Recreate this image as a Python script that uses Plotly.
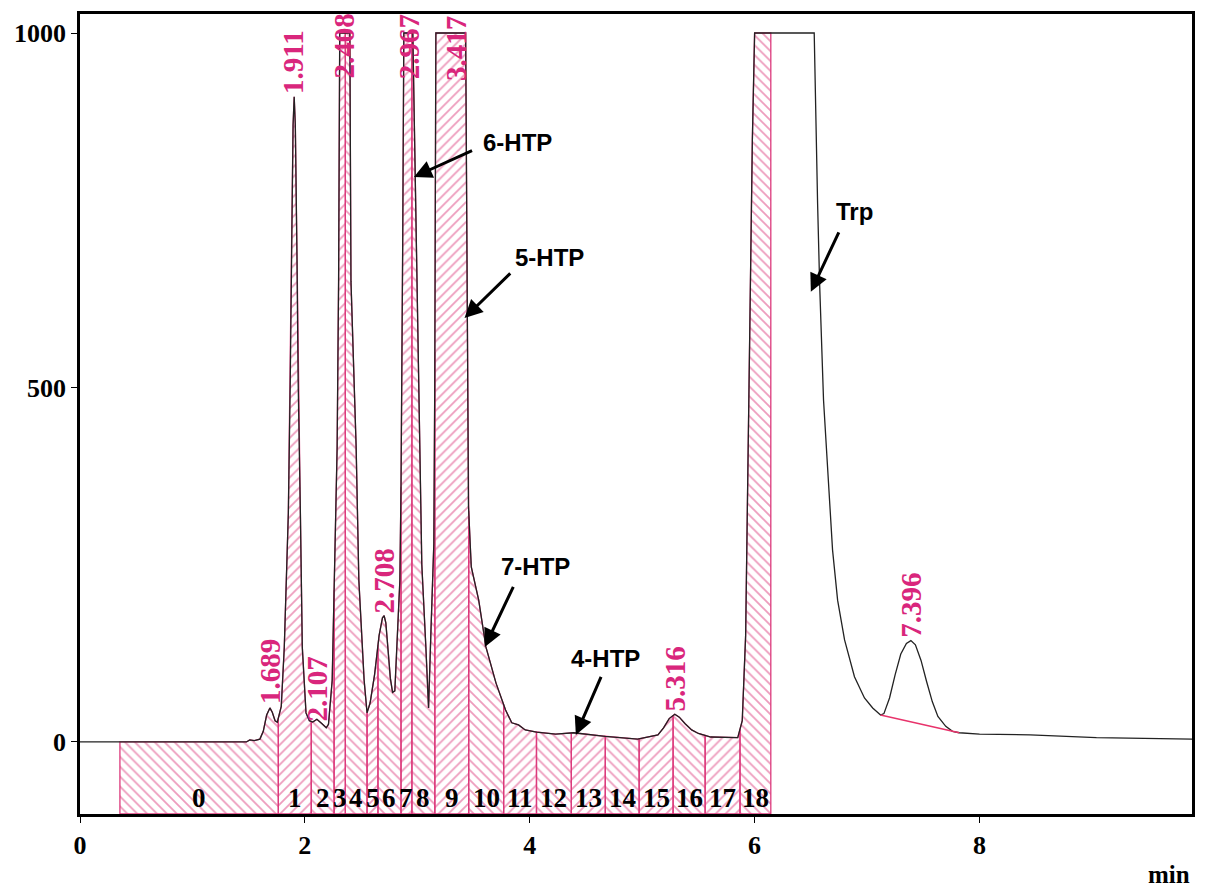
import numpy as np
import plotly.graph_objects as go

# ---------------- data ----------------
time_min = [0.00, 1.48, 1.51, 1.55, 1.60, 1.63, 1.66, 1.689, 1.71, 1.735, 1.755, 1.79, 1.817, 1.853,
            1.87, 1.88, 1.895, 1.905, 1.915, 1.93, 1.94, 1.96, 1.977, 2.01, 2.04, 2.07, 2.107, 2.15,
            2.19, 2.21, 2.243, 2.287, 2.30, 2.31, 2.40, 2.41, 2.456, 2.48, 2.527, 2.553, 2.58, 2.62,
            2.66, 2.69, 2.705, 2.72, 2.74, 2.76, 2.78, 2.80, 2.845, 2.855, 2.87, 2.88, 2.96, 2.99,
            3.014, 3.04, 3.076, 3.10, 3.12, 3.147, 3.155, 3.165, 3.43, 3.445, 3.45, 3.455, 3.47,
            3.48, 3.546, 3.61, 3.70, 3.785, 3.84, 3.90, 3.96, 4.06, 4.23, 4.39, 4.67, 4.96, 5.14,
            5.19, 5.24, 5.29, 5.33, 5.38, 5.44, 5.50, 5.61, 5.85, 5.89, 5.92, 5.95, 5.98, 6.00,
            6.53, 6.56, 6.578, 6.613, 6.667, 6.693, 6.738, 6.80, 6.888, 6.977, 7.05, 7.12, 7.15,
            7.20, 7.25, 7.30, 7.35, 7.39, 7.43, 7.48, 7.53, 7.58, 7.63, 7.70, 7.76, 7.82, 8.00,
            8.45, 9.04, 9.95]
signal = [0, 0, 3, 2, 4, 15, 38, 48, 42, 30, 28, 50, 134, 323,
          510, 680, 870, 910, 870, 680, 510, 323, 134, 41, 30, 28, 32, 26,
          20, 25, 87, 416, 650, 1000, 1000, 650, 416, 228, 87, 41, 55, 95,
          150, 175, 178, 168, 130, 90, 70, 72, 228, 360, 700, 1000, 1000, 700,
          450, 250, 134, 48, 150, 280, 500, 1000, 1000, 600, 470, 333, 280,
          247, 200, 134, 83, 45, 27, 24, 17, 14, 11, 13, 8, 4, 10,
          20, 33, 39, 35, 26, 17, 12, 7, 6, 30, 150, 500, 850, 1000,
          1000, 760, 647, 482, 341, 271, 200, 144, 92, 62, 48, 38, 40,
          62, 95, 124, 139, 143, 137, 115, 85, 57, 36, 22, 15, 13, 11,
          10, 6, 4]

slice_edges = [0.355, 1.764, 2.057, 2.26, 2.36, 2.553, 2.65, 2.855, 2.952, 3.156, 3.457,
               3.768, 4.06, 4.37, 4.672, 4.973, 5.275, 5.56, 5.87, 6.144]
slice_numbers = ["0", "1", "2", "3", "4", "5", "6", "7", "8", "9", "10", "11", "12", "13",
                 "14", "15", "16", "17", "18"]

rt_labels = ["1.689", "1.911", "2.107", "2.408", "2.708", "2.967", "3.417", "5.316", "7.396"]
rt_label_x = [1.685, 1.90, 2.11, 2.35, 2.704, 2.925, 3.35, 5.29, 7.39]
rt_label_y = [52, 912, 27, 934, 179, 934, 931, 42, 146]

peak_baseline_t = [7.12, 7.82]
peak_baseline_v = [38, 13]

x_ticks = [0, 2, 4, 6, 8]
y_ticks = [0, 500, 1000]

X_RANGE = [0, 9.89]
Y_RANGE = [-101.6, 1026.8]

PINK = "#d9267c"
HATCH = "#dc3a7c"
SERIF = "Liberation Serif"
SANS = "Liberation Sans"

fig = go.Figure()

t_arr = np.array(time_min, dtype=float)
v_arr = np.array(signal, dtype=float)

# integration slices (hatched)
for i in range(len(slice_edges) - 1):
    a, b = slice_edges[i], slice_edges[i + 1]
    inside = (t_arr > a) & (t_arr < b)
    xs = [a, a] + list(t_arr[inside]) + [b, b, a]
    ys = [Y_RANGE[0], float(np.interp(a, t_arr, v_arr))] + list(v_arr[inside]) + \
         [float(np.interp(b, t_arr, v_arr)), Y_RANGE[0], Y_RANGE[0]]
    fig.add_trace(go.Scatter(
        x=xs, y=ys, mode="lines", fill="toself",
        fillcolor="rgba(255,255,255,0)",
        fillpattern=dict(shape="\\" if i % 2 == 0 else "/", fgcolor=HATCH,
                         bgcolor="rgba(255,255,255,0)", size=7, solidity=0.26),
        line=dict(color=HATCH, width=1.3), hoverinfo="skip", showlegend=False))

# chromatogram trace
fig.add_trace(go.Scatter(x=time_min, y=signal, mode="lines",
                         line=dict(color="#222222", width=1.3), showlegend=False))

# baseline drawn under the 7.396 peak
fig.add_trace(go.Scatter(x=peak_baseline_t, y=peak_baseline_v, mode="lines",
                         line=dict(color="#e8336b", width=1.4), showlegend=False))

annotations = []
# slice numbers
for i, lab in enumerate(slice_numbers):
    annotations.append(dict(x=(slice_edges[i] + slice_edges[i + 1]) / 2, y=-79, text=lab,
                            showarrow=False, xanchor="center", yanchor="middle",
                            font=dict(family=SERIF, size=27, color="black", weight="bold")))
# retention times
for lab, x, y in zip(rt_labels, rt_label_x, rt_label_y):
    annotations.append(dict(x=x, y=y, text=lab, textangle=-90, showarrow=False,
                            xanchor="center", yanchor="bottom", borderpad=0,
                            font=dict(family=SERIF, size=29, color=PINK, weight="bold")))

# compound labels with arrows
compounds = [
    ("6-HTP", (3.89, 846), (3.50, 835), (2.97, 797)),
    ("5-HTP", (4.18, 684), (3.84, 663), (3.42, 598)),
    ("7-HTP", (4.05, 247), (3.86, 221), (3.60, 134)),
    ("4-HTP", (4.67, 118), (4.64, 94), (4.41, 10)),
    ("Trp", (6.89, 748), (6.755, 721), (6.50, 635)),
]
for name, txt, tail, tip in compounds:
    annotations.append(dict(x=txt[0], y=txt[1], text=name, showarrow=False,
                            xanchor="center", yanchor="middle",
                            font=dict(family=SANS, size=24, color="black", weight="bold")))
    annotations.append(dict(x=tip[0], y=tip[1], ax=tail[0], ay=tail[1], axref="x", ayref="y",
                            text="", showarrow=True, arrowhead=2, arrowsize=1.2,
                            arrowwidth=3, arrowcolor="black", standoff=0, startstandoff=0))

annotations.append(dict(x=1.0, y=-0.076, xref="paper", yref="paper", text="min",
                        showarrow=False, xanchor="right", yanchor="middle",
                        font=dict(family=SERIF, size=25, color="black", weight="bold")))

# the page body adds an 8 px offset; the figure is sized to fit the visible page
fig.update_layout(
    width=1189, height=880,
    margin=dict(l=72, r=2, t=6, b=74),
    paper_bgcolor="white", plot_bgcolor="white",
    showlegend=False,
    annotations=annotations,
    xaxis=dict(range=X_RANGE, tickvals=x_ticks, ticktext=[str(v) for v in x_ticks],
               showgrid=False, zeroline=False, showline=True, linecolor="black", linewidth=2.5,
               mirror=True, ticks="outside", ticklen=6, tickcolor="black",
               tickfont=dict(family=SERIF, size=26, color="black", weight="bold")),
    yaxis=dict(range=Y_RANGE, tickvals=y_ticks, ticktext=[str(v) for v in y_ticks],
               showgrid=False, zeroline=False, showline=True, linecolor="black", linewidth=2.5,
               mirror=True, ticks="outside", ticklen=6, tickcolor="black",
               tickfont=dict(family=SERIF, size=26, color="black", weight="bold")),
)

fig.write_html("out.html")
